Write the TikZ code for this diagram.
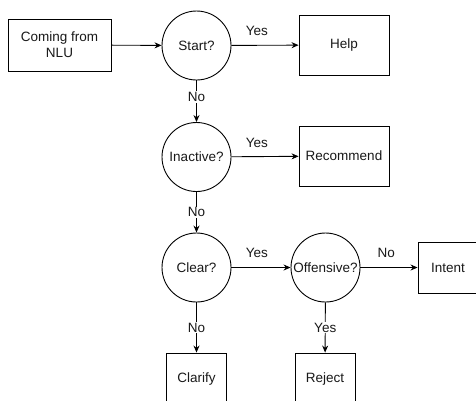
\documentclass[tikz,border=0pt]{standalone}
\usepackage{fontspec}
\setmainfont{Liberation Sans}
\usetikzlibrary{arrows.meta}

\begin{document}
\begin{tikzpicture}[
  x=1pt, y=-1pt,
  every node/.style={font=\fontsize{13.5}{16}\selectfont, text=black!90},
  box/.style={rectangle, draw, line width=0.9pt, align=center, inner sep=0pt},
  test/.style={circle, draw, line width=0.9pt, minimum size=69pt, inner sep=0pt},
  arrow/.style={-{Stealth[length=7pt, width=6pt]}, line width=0.9pt},
  yes/.style={above=8pt, inner sep=1pt},
  no/.style={fill=white, inner sep=1pt},
]

\clip (0,0) rectangle (476,400);
\fill[white] (0,0) rectangle (476,400);

% === First row ===
\node[box, minimum width=103pt, minimum height=52pt] (nlu) at (59.5,45) {Coming from\\NLU};
\node[test] (start) at (196.5,45.5) {Start?};
\node[box, minimum width=90pt, minimum height=60pt] (help) at (344,45) {Help};

% === Second row ===
\node[test] (inactive) at (196.5,157) {Inactive?};
\node[box, minimum width=90pt, minimum height=60pt] (recommend) at (344,156) {Recommend};

% === Third row ===
\node[test] (clear) at (196.5,267.5) {Clear?};
\node[test] (offensive) at (325.5,267.5) {Offensive?};
\node[box, minimum width=60pt, minimum height=51pt] (intent) at (448,267.5) {Intent};

% === Outcomes ===
\node[box, minimum width=60pt, minimum height=52pt] (clarify) at (196.5,379) {Clarify};
\node[box, minimum width=60pt, minimum height=52pt] (reject) at (325,379) {Reject};

% === Edges ===
\draw[arrow] (nlu) -- (start);
\draw[arrow] (start) -- node[yes, pos=0.38] {Yes} (help);
\draw[arrow] (start) -- node[no, pos=0.4] {No} (inactive);
\draw[arrow] (inactive) -- node[yes, pos=0.38] {Yes} (recommend);
\draw[arrow] (inactive) -- node[no] {No} (clear);
\draw[arrow] (clear) -- node[yes, pos=0.43] {Yes} (offensive);
\draw[arrow] (offensive) -- node[yes, pos=0.45] {No} (intent);
\draw[arrow] (clear) -- node[no] {No} (clarify);
\draw[arrow] (offensive) -- node[no] {Yes} (reject);

\end{tikzpicture}
\end{document}
